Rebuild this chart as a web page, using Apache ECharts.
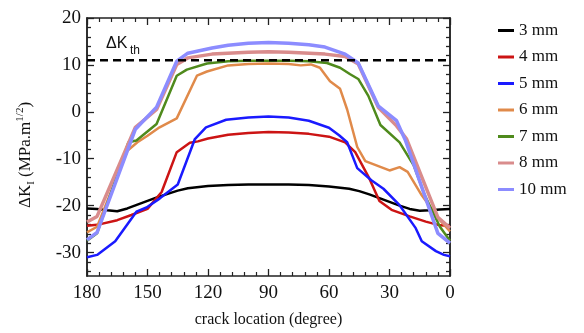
<!DOCTYPE html>
<html>
<head>
<meta charset="utf-8">
<script src="https://cdn.jsdelivr.net/npm/echarts@6/dist/echarts.min.js"></script>
<style>
  html, body { margin: 0; padding: 0; background: #fff; }
  #chart { width: 584px; height: 333px; }
</style>
</head>
<body>
<div id="chart"></div>
<script>
// crack length series: angle (degree) and ΔK_I values
const ang3 = [180, 175, 170, 165, 160, 155, 150, 145, 140, 135, 130, 120, 110, 100, 90, 80, 70, 60, 50, 45, 40, 35, 30, 25, 20, 15, 10, 5, 0];
const k3 = [-20.6, -20.7, -21.0, -21.2, -20.6, -19.8, -19.0, -18.2, -17.5, -16.8, -16.3, -15.8, -15.6, -15.5, -15.5, -15.5, -15.6, -15.9, -16.4, -16.9, -17.6, -18.4, -19.2, -20.0, -20.7, -21.1, -21.0, -20.8, -20.7];

const ang4 = [180, 175, 165, 158, 150, 143, 135.5, 129, 125, 120, 110, 100, 90, 80, 70, 60, 52, 47, 40, 35, 29, 20, 12, 5, 0];
const k4 = [-24.3, -24.1, -23.1, -22.0, -20.7, -17.1, -8.6, -6.6, -6.3, -5.7, -4.9, -4.5, -4.3, -4.4, -4.7, -5.3, -6.5, -8.6, -14.2, -19.0, -20.9, -22.3, -23.4, -24.2, -24.3];

const ang5 = [180, 175, 166, 155.5, 150.5, 144, 135, 126.5, 121, 111, 100, 90, 80, 70, 60, 55, 51, 46, 39, 33, 25, 17, 14, 7, 3, 0];
const k5 = [-31.0, -30.5, -27.6, -21.3, -20.4, -18.5, -15.5, -5.8, -3.3, -1.7, -1.2, -1.0, -1.2, -1.9, -3.4, -5.0, -6.5, -12.0, -14.6, -16.4, -19.9, -24.8, -27.6, -29.7, -30.5, -30.8];

const ang6 = [180, 175, 160, 155, 150, 144, 135.5, 125.5, 120.5, 110, 100, 90, 80, 74, 69, 64.5, 59.5, 54.5, 51, 46, 42, 30, 25, 21, 14, 5, 0];
const k6 = [-25.7, -24.5, -8.3, -6.5, -5.1, -3.3, -1.4, 7.7, 8.6, 9.9, 10.2, 10.3, 10.2, 9.9, 10.1, 9.4, 6.5, 4.9, 0.5, -7.5, -10.5, -12.5, -11.8, -12.8, -17.8, -23.1, -25.5];

const ang7 = [180, 175, 159.5, 155.5, 145.5, 135.5, 130.5, 120.5, 110, 100, 90, 80, 70, 61, 54.5, 49.5, 45.5, 40.5, 34.5, 25, 18, 12.5, 5, 0];
const k7 = [-27.5, -25.9, -6.5, -6.1, -2.6, 7.7, 9.0, 10.3, 10.8, 10.9, 10.9, 10.9, 10.8, 10.4, 9.4, 8.0, 7.0, 3.4, -2.8, -6.5, -11.4, -17.8, -24.5, -27.5];

const ang8 = [180, 175, 156, 145.5, 135.5, 130, 118, 100, 90, 80, 62, 52, 45.5, 35.5, 26.5, 21.5, 6, 0];
const k8 = [-23.5, -22.3, -3.3, 0.5, 10.1, 11.5, 12.3, 12.7, 12.8, 12.7, 12.3, 11.8, 10.2, 0.9, -3.0, -5.8, -22.5, -24.8];

const ang10 = [180, 175, 156, 145.5, 135.5, 130, 118, 110, 100, 90, 80, 70, 62, 52, 45.5, 35.5, 26.5, 22, 6, 0];
const k10 = [-27.3, -25.7, -3.7, 1.0, 10.8, 12.5, 13.6, 14.2, 14.6, 14.8, 14.6, 14.3, 13.8, 12.3, 10.4, 1.2, -1.9, -6.2, -25.9, -28.0];

// threshold line
const thAng = [180, 0];
const thK = [11, 11];

const names = ['3 mm', '4 mm', '5 mm', '6 mm', '7 mm', '8 mm', '10 mm'];
const colors = ['#000000', '#cc1414', '#1a1aff', '#e08a4a', '#4f8a1c', '#d98c8c', '#8c8cff'];
const widths = [2.5, 2.5, 2.5, 2.5, 2.5, 3.5, 3.5];

const yMajor = [-30, -20, -10, 0, 10, 20];
const yMinor = [-34, -32, -28, -26, -24, -22, -18, -16, -14, -12, -8, -6, -4, -2, 2, 4, 6, 8, 12, 14, 16, 18];

const angs = [ang3, ang4, ang5, ang6, ang7, ang8, ang10];
const vals = [k3, k4, k5, k6, k7, k8, k10];
const zip = (a, b) => a.map((x, i) => [x, b[i]]);

const serif = 'Liberation Serif';
const frame = '#222';

function xAx(pos) {
  return {
    type: 'value', position: pos, min: 0, max: 180, interval: 30, inverse: true,
    axisLine: { show: true, onZero: false, lineStyle: { color: frame, width: 1.5 } },
    axisTick: { show: true, inside: true, length: 7, lineStyle: { color: frame, width: 1.3 } },
    minorTick: { show: true, splitNumber: 5, length: 4, lineStyle: { color: frame, width: 1.2 } },
    splitLine: { show: false },
    axisLabel: { show: pos === 'bottom', fontFamily: serif, fontSize: 19, color: '#111', margin: 8 }
  };
}

function yAx(pos, ticks, len, withLabel) {
  return {
    type: 'value', position: pos, min: -35, max: 20,
    axisLine: { show: true, onZero: false, lineStyle: { color: frame, width: 1.5 } },
    axisTick: { show: true, inside: true, length: len, customValues: ticks, lineStyle: { color: frame, width: 1.3 } },
    splitLine: { show: false },
    axisLabel: { show: withLabel, customValues: yMajor, fontFamily: serif, fontSize: 19, color: '#111', margin: 6 }
  };
}

const chart = echarts.init(document.getElementById('chart'));

const yMain = yAx('left', yMajor, 7, true);
yMain.name = '{t|ΔK}{s|I}{t| (MPa.m}{p|1/2}{t|)}';
yMain.nameLocation = 'middle';
yMain.nameRotate = 90;
yMain.nameGap = 50;
yMain.nameTextStyle = {
  padding: [0, 16, 0, 0],
  rich: {
    t: { fontFamily: serif, fontSize: 17, color: '#111', lineHeight: 22, verticalAlign: 'middle' },
    s: { fontFamily: serif, fontSize: 11, color: '#111', lineHeight: 22, verticalAlign: 'bottom' },
    p: { fontFamily: serif, fontSize: 11, color: '#111', lineHeight: 14, verticalAlign: 'top' }
  }
};

const xMain = xAx('bottom');
xMain.name = 'crack location (degree)';
xMain.nameLocation = 'middle';
xMain.nameGap = 36;
xMain.nameTextStyle = { fontFamily: serif, fontSize: 16, color: '#111' };

const series = names.map((n, i) => ({
  name: n,
  type: 'line',
  data: zip(angs[i], vals[i]),
  symbol: 'none',
  lineStyle: { color: colors[i], width: widths[i] },
  itemStyle: { color: colors[i] },
  z: 2 + i
}));
series.push({
  name: 'th',
  type: 'line',
  data: zip(thAng, thK),
  symbol: 'none',
  lineStyle: { color: '#000', width: 2.5, type: [8, 5] },
  z: 20
});

chart.setOption({
  animation: false,
  grid: { left: 87, right: 134, top: 18, bottom: 55 },
  legend: {
    data: names,
    orient: 'vertical',
    left: 493,
    top: 17,
    icon: 'rect',
    itemWidth: 16,
    itemHeight: 3,
    itemGap: 9.5,
    textStyle: { fontFamily: serif, fontSize: 17, color: '#111' }
  },
  xAxis: [xMain, xAx('top')],
  yAxis: [yMain, yAx('left', yMinor, 4, false), yAx('right', yMajor, 7, false), yAx('right', yMinor, 4, false)],
  graphic: [
    { type: 'text', left: 106, top: 36, style: { text: 'ΔK', fontFamily: 'Liberation Sans', fontSize: 16, fill: '#111' } },
    { type: 'text', left: 130, top: 45, style: { text: 'th', fontFamily: 'Liberation Sans', fontSize: 12, fill: '#111' } }
  ],
  series: series
});
</script>
</body>
</html>
